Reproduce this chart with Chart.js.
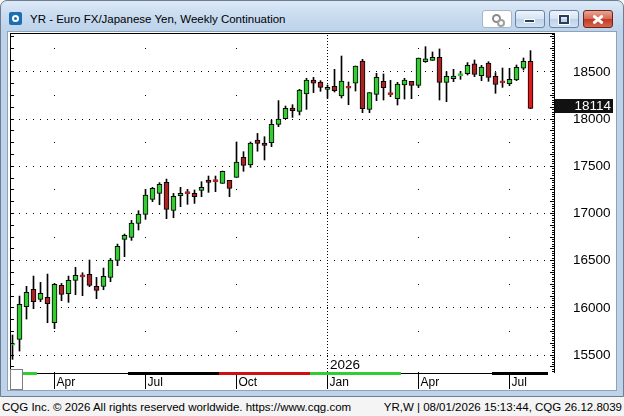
<!DOCTYPE html>
<html><head><meta charset="utf-8">
<script src="https://cdn.jsdelivr.net/npm/chart.js@4.4.1/dist/chart.umd.min.js"></script>
<style>
html,body{margin:0;padding:0;width:624px;height:416px;overflow:hidden;background:#f4f4f4;font-family:"Liberation Sans",Arial,sans-serif;}
#win{position:absolute;left:0;top:0;width:622px;height:395px;border:1px solid #6e7e90;border-radius:7px 7px 0 0;background:linear-gradient(to bottom,#dce9f7 0px,#c8dbf0 15px,#bcd3ea 31px,#bcd3ea 100%);}
#icon{position:absolute;left:9px;top:12px;width:13px;height:13px;background:#1c6db3;border-radius:2px;}
#icon:after{content:"";position:absolute;left:3px;top:3px;width:3px;height:3px;border:2px solid #fff;border-radius:50%;}
#ttl{position:absolute;left:30px;top:11px;font-size:11.5px;color:#000;white-space:nowrap;line-height:16px;}
.btn{position:absolute;top:10px;height:16px;width:28px;border:1px solid #6a83a6;border-radius:3px;background:linear-gradient(#eef4fc,#d6e3f3 48%,#bfd2ea 52%,#d0e1f4);}
#blink{left:482px;background:#fff;border-color:#a7b6c6;}
#blink:before{content:"";position:absolute;left:9px;top:3px;width:5px;height:5px;border:2px solid #8a8a8a;border-radius:50%;}
#blink:after{content:"";position:absolute;left:14px;top:8px;width:4px;height:4px;border:2px solid #a0a0a0;border-radius:50%;}
#bmin{left:515px;}
#bmin:after{content:"";position:absolute;left:9px;top:9px;width:9px;height:2px;background:#2c3e57;box-shadow:0 0 0 1px #fff;}
#bmax{left:549px;}
#bmax:after{content:"";position:absolute;left:9px;top:4px;width:6px;height:5px;border:2px solid #2c3e57;box-shadow:0 0 0 1px #fff;}
#bclose{left:583px;border-color:#6d2418;background:linear-gradient(#e9a595,#d66a55 48%,#c23a24 52%,#d4664d);}
#bclose:before,#bclose:after{content:"";position:absolute;left:8px;top:7px;width:12px;height:3px;background:#fff;border-radius:1px;}
#bclose:before{transform:rotate(40deg);}
#bclose:after{transform:rotate(-40deg);}
#panel{position:absolute;left:7px;top:31px;width:608px;height:358px;background:#fff;border:1px solid #8ea3ba;}
#chart{position:absolute;left:0;top:0;z-index:2;}
#sbox{position:absolute;left:10px;top:369px;width:11px;height:19px;background:#fff;border:1px solid #7d7d7d;z-index:3;}
#fl,#fr{position:absolute;top:399px;font-size:11.5px;line-height:16px;color:#000;white-space:nowrap;}
#fl{left:2px;}
#fr{right:2px;}
</style></head>
<body>
<div id="win"></div>
<div id="icon"></div>
<div id="ttl">YR - Euro FX/Japanese Yen, Weekly Continuation</div>
<div class="btn" id="blink"></div><div class="btn" id="bmin"></div><div class="btn" id="bmax"></div><div class="btn" id="bclose"></div>
<div id="panel"></div>
<canvas id="chart" width="624" height="416"></canvas>
<div id="sbox"></div>
<div id="fl">CQG Inc. © 2026 All rights reserved worldwide. https://www.cqg.com</div>
<div id="fr">YR,W | 08/01/2026 15:13:44, CQG 26.12.8039</div>
<script>
const weeks = ['2025-02-24','2025-03-03','2025-03-10','2025-03-17','2025-03-24','2025-03-31','2025-04-07','2025-04-14','2025-04-21','2025-04-28',
'2025-05-05','2025-05-12','2025-05-19','2025-05-26','2025-06-02','2025-06-09','2025-06-16','2025-06-23','2025-06-30','2025-07-07',
'2025-07-14','2025-07-21','2025-07-28','2025-08-04','2025-08-11','2025-08-18','2025-08-25','2025-09-01','2025-09-08','2025-09-15',
'2025-09-22','2025-09-29','2025-10-06','2025-10-13','2025-10-20','2025-10-27','2025-11-03','2025-11-10','2025-11-17','2025-11-24',
'2025-12-01','2025-12-08','2025-12-15','2025-12-22','2025-12-29','2026-01-05','2026-01-12','2026-01-19','2026-01-26','2026-02-02',
'2026-02-09','2026-02-16','2026-02-23','2026-03-02','2026-03-09','2026-03-16','2026-03-23','2026-03-30','2026-04-06','2026-04-13',
'2026-04-20','2026-04-27','2026-05-04','2026-05-11','2026-05-18','2026-05-25','2026-06-01','2026-06-08','2026-06-15','2026-06-22',
'2026-06-29','2026-07-06','2026-07-13','2026-07-20','2026-07-27'];
const opens = [15605,15666,16012,16196,16090,16111,15842,16238,16150,16291,
16334,16355,16228,16228,16323,16503,16726,16747,16895,16991,
17150,17213,17330,17033,17189,17216,17213,17245,17355,17344,
17320,17351,17383,17595,17514,17777,17747,17750,17945,18005,
18118,18083,18266,18415,18394,18316,18348,18245,18333,18380,
18616,18104,18263,18401,18266,18217,18362,18401,18358,18609,
18623,18655,18390,18429,18461,18482,18585,18461,18595,18454,
18390,18376,18415,18539,18613];
const highs = [15712,16125,16228,16337,16270,16358,16259,16259,16337,16429,
16372,16507,16323,16422,16524,16676,16782,16927,17030,17256,
17277,17327,17365,17213,17277,17256,17249,17337,17397,17397,
17450,17351,17758,17655,17758,17849,17814,17991,18196,18139,
18153,18316,18433,18443,18408,18362,18528,18669,18394,18563,
18634,18281,18486,18479,18411,18390,18433,18401,18648,18768,
18712,18744,18503,18528,18507,18599,18627,18570,18609,18493,
18542,18539,18574,18648,18726];
const lows = [15454,15542,15881,15991,16065,15842,15779,16076,16058,16139,
16129,16224,16097,16192,16277,16447,16542,16715,16825,16938,
17125,17093,16945,16955,17072,17097,17107,17178,17224,17231,
17320,17178,17383,17447,17489,17660,17567,17708,17920,18005,
18019,18044,18104,18281,18295,18221,18288,18224,18153,18298,
18069,18069,18196,18203,18238,18150,18213,18217,18334,18602,
18623,18203,18185,18397,18422,18468,18450,18408,18401,18274,
18337,18355,18408,18521,18111];
const closes = [15612,16037,16164,16065,16153,16044,16249,16143,16291,16344,
16328,16238,16185,16334,16507,16652,16768,16899,16994,17196,
17266,17309,17044,17182,17213,17210,17178,17277,17330,17338,
17447,17266,17546,17510,17747,17744,17722,17945,18001,18115,
18090,18309,18415,18380,18337,18337,18302,18404,18327,18563,
18111,18281,18443,18334,18260,18372,18415,18358,18648,18638,
18655,18390,18454,18457,18467,18570,18475,18553,18443,18369,
18384,18422,18549,18613,18114];
const yTickValues = [15500,16000,16500,17000,17500,18000,18500];
const quarterLabels = ['Apr','Jul','Oct','Jan','Apr','Jul'];
const contracts = ['H25','M25','U25','Z25','H26','M26','U26'];
const contractFirstWeek = [0,4,17,30,43,56,69];

const GREEN = '#33cc33', RED = '#a82424', LAST_RED = '#e01a1a';
const contractColor = {H: GREEN, M: null, U: '#000000', Z: '#d01010'};

// quarter ticks: first week of Jan/Apr/Jul/Oct
const qTicks = [];
weeks.forEach((w, i) => {
  if (i === 0) return;
  const m = +w.slice(5, 7), pm = +weeks[i - 1].slice(5, 7);
  if (m !== pm && (m === 1 || m === 4 || m === 7 || m === 10)) {
    qTicks.push({i, label: quarterLabels[qTicks.length], year: m === 1 ? w.slice(0, 4) : null});
  }
});

const n = weeks.length;
const isDoji = i => Math.abs(closes[i] - opens[i]) <= 10;
const bodyColor = i => closes[i] >= opens[i] ? GREEN : (i === n - 1 ? LAST_RED : RED);

Chart.defaults.font.family = '"Liberation Sans", Arial, sans-serif';

const decor = {
  id: 'decor',
  beforeDatasetsDraw(chart) {
    const {ctx, chartArea: a, scales: {x, y}} = chart;
    ctx.save();
    ctx.fillStyle = '#000';
    const iMin = Math.ceil(x.min), iMax = Math.floor(x.max);
    yTickValues.forEach(v => {
      const py = Math.floor(y.getPixelForValue(v));
      for (let i = iMin; i <= iMax; i++) {
        const px = Math.floor(x.getPixelForValue(i));
        if (px > a.left && px < a.right - 1) ctx.fillRect(px, py, 1, 1);
      }
    });
    qTicks.forEach(t => {
      const px = Math.floor(x.getPixelForValue(t.i));
      if (t.year) {
        for (let py = a.top + 2; py < a.bottom; py += 3) ctx.fillRect(px, py, 1, 1);
        ctx.font = '13.5px "Liberation Sans", Arial, sans-serif';
        ctx.textAlign = 'left';
        ctx.textBaseline = 'alphabetic';
        ctx.fillText(t.year, px + 3, a.bottom - 3);
      } else {
        for (let v = yTickValues[0] - 250; v < y.max; v += 500) {
          if (v < y.min) continue;
          ctx.fillRect(px, Math.floor(y.getPixelForValue(v)), 1, 1);
        }
      }
    });
    ctx.restore();
  },
  afterDatasetsDraw(chart) {
    const {ctx, chartArea: a, scales: {x, y}} = chart;
    ctx.save();
    ctx.fillStyle = '#000';
    ctx.fillRect(a.left - 1, a.top, a.right - a.left + 2, 1);
    ctx.fillRect(a.left - 1, a.top, 1, a.bottom - a.top);
    for (let v = Math.ceil(y.min / 125) * 125; v <= y.max; v += 125) {
      ctx.fillRect(a.left - 1, Math.floor(y.getPixelForValue(v)), 4, 1);
    }
    for (let v = Math.ceil(y.min / 25) * 25; v <= y.max; v += 25) {
      const len = v % 125 === 0 ? 4 : 2;
      ctx.fillRect(a.right - len, Math.floor(y.getPixelForValue(v)), len, 1);
    }
    // contract colour bar
    const by = a.bottom;
    const endX = x.getPixelForValue(n - 1 + 2.5);
    ctx.fillRect(a.left, by + 1, endX - a.left, 1);
    contractFirstWeek.forEach((s, k) => {
      const x0 = Math.max(a.left, Math.round(x.getPixelForValue(s - 0.5)));
      const x1 = k < contractFirstWeek.length - 1 ? Math.round(x.getPixelForValue(contractFirstWeek[k + 1] - 0.5)) : Math.round(endX);
      const col = contractColor[contracts[k][0]];
      if (col) { ctx.fillStyle = col; ctx.fillRect(x0, by, x1 - x0, 3); }
    });
    // last price box
    const lp = closes[n - 1];
    const py = Math.round(y.getPixelForValue(lp));
    ctx.fillStyle = '#111';
    ctx.fillRect(a.right + 1, py - 9, 58, 14);
    ctx.fillStyle = '#fff';
    ctx.font = '13.5px "Liberation Sans", Arial, sans-serif';
    ctx.textAlign = 'right';
    ctx.textBaseline = 'middle';
    ctx.fillText(String(lp), a.right + 57, py - 2);
    ctx.restore();
  }
};

new Chart(document.getElementById('chart'), {
  type: 'bar',
  data: {
    datasets: [
      {
        label: 'body',
        order: 0,
        grouped: false,
        barThickness: 5,
        minBarLength: 2,
        borderWidth: 1,
        borderSkipped: false,
        data: weeks.map((w, i) => ({x: i, y: [opens[i], closes[i]]})),
        backgroundColor: c => bodyColor(c.dataIndex),
        borderColor: c => isDoji(c.dataIndex) ? bodyColor(c.dataIndex) : '#000'
      },
      {
        label: 'wick',
        order: 1,
        grouped: false,
        barThickness: 1,
        borderWidth: 0,
        data: weeks.map((w, i) => ({x: i, y: [lows[i], highs[i]]})),
        backgroundColor: '#000'
      }
    ]
  },
  options: {
    responsive: false,
    animation: false,
    devicePixelRatio: 1,
    events: [],
    layout: {padding: {left: 11, top: 33, right: 13, bottom: 24}},
    plugins: {legend: {display: false}, tooltip: {enabled: false}},
    scales: {
      x: {
        type: 'linear',
        position: 'bottom',
        offset: false,
        min: -0.2143,
        max: 77.357,
        afterBuildTicks: s => { s.ticks = qTicks.map(t => ({value: t.i})); },
        afterFit: s => { s.height = 20; },
        ticks: {
          autoSkip: false, maxRotation: 0, minRotation: 0, align: 'start', labelOffset: 2, padding: -14,
          color: '#000', font: {size: 12},
          callback: v => { const t = qTicks.find(q => q.i === v); return t ? t.label : ''; }
        },
        grid: {drawOnChartArea: false, drawTicks: true, tickLength: 17, color: '#000', lineWidth: 1, offset: false},
        border: {display: false}
      },
      y: {
        type: 'linear',
        position: 'right',
        min: 15320,
        max: 18913,
        afterBuildTicks: s => { s.ticks = yTickValues.map(v => ({value: v})); },
        afterFit: s => { s.width = 57; },
        ticks: {padding: 19, color: '#000', font: {size: 13.5}, callback: v => String(v)},
        grid: {drawOnChartArea: false, drawTicks: false},
        border: {display: true, color: '#000', width: 1}
      }
    }
  },
  plugins: [decor]
});
</script>
</body></html>
